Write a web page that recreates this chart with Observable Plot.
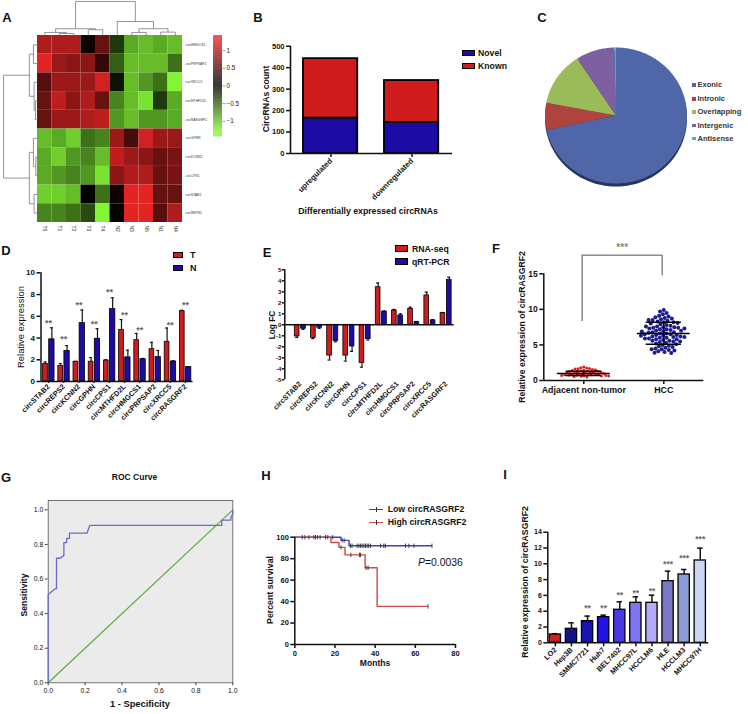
<!DOCTYPE html>
<html><head><meta charset="utf-8">
<script src="https://cdn.jsdelivr.net/npm/d3@7"></script>
<script src="https://cdn.jsdelivr.net/npm/@observablehq/plot@0.6"></script>
<style>
body{margin:0;background:#fff;}
#fig{position:relative;width:748px;height:714px;overflow:hidden;background:#fff;font-family:"Liberation Sans",Arial,Helvetica,sans-serif;color:#111;}
</style></head><body><div id="fig"></div><script>
// ---------------- DATA ----------------
// A: heatmap
const hmCols = ["T5","T1","T2","T3","T4","N2","N3","N5","N1","N4"];
const hmRows = ["circHMGCS1","circPRPSAP2","circXRCC5","circMTHFD2L","circRASGRF2","circGPHN","circKCNN2","circCPS1","circSTAB2","circREPS2"];
const hmValues = [
  [1.0, 1.0, 1.0, 0.1, 0.6, -0.3, -0.9, -1.0, -0.9, -1.0],
  [1.3, 0.9, 0.8, 0.8, 0.3, -0.5, -1.0, -1.0, -1.0, -0.6],
  [0.5, 0.9, 0.9, 0.9, 1.2, -0.1, -1.0, -0.8, -0.6, -1.3],
  [0.6, 1.1, 0.8, 1.0, 0.6, -0.7, -1.0, -1.2, -0.3, -0.9],
  [0.6, 0.9, 0.9, 1.0, 1.1, -0.8, -1.0, -0.8, -0.8, -0.9],
  [-1.0, -0.9, -1.1, -0.6, -0.7, 0.9, 0.4, 1.2, 0.9, 0.9],
  [-0.9, -1.1, -0.8, -0.7, -1.0, 1.1, 0.9, 0.8, 0.6, 0.7],
  [-0.9, -0.8, -0.7, -0.8, -1.2, 0.8, 1.0, 1.0, 0.6, 0.7],
  [-1.1, -1.1, -1.0, 0.0, -0.6, 0.1, 1.3, 1.3, 0.6, 0.6],
  [-0.7, -0.7, -0.6, -0.4, -1.3, 0.0, 1.3, 1.3, 0.5, 1.0]
];
// dendrograms: [left, right, height]
const colTree = [[[0,[1,2,0.06],0.09],[3,4,0.17],0.2],[5,[[6,7,0.09],[8,9,0.1],0.2],0.41],1];
const rowTree = [[[0,1,0.12],[2,[3,4,0.06],0.1],0.24],[[5,[6,7,0.05],0.12],[8,9,0.1],0.24],1];
const hmLegendTicks = [1, 0.5, 0, -0.5, -1];
const hmLegendLabels = ["1","0.5","0","\u22120.5","\u22121"];

// B
const bCats = ["upregulated","downregulated"];
const bNovel = [165, 145];
const bKnown = [277, 195];
const bTicks = [0,100,200,300,400,500];

// C
const pieCats = ["Exonic","Intronic","Overlapping","Intergenic","Antisense"];
const pieShares = [71.6, 6.4, 12.8, 8.8, 0.4];
const pieColors = ["#4f67a8","#b1433f","#9bbb59","#7d60a0","#4bacc6"];

// D
const dGenes = ["circSTAB2","circREPS2","circKCNN2","circGPHN","circCPS1","circMTHFD2L","circHMGCS1","circPRPSAP2","circXRCC5","circRASGRF2"];
const dT    = [1.62, 1.42, 1.82, 1.82, 1.93, 4.75, 3.80, 2.97, 3.65, 6.47];
const dTerr = [1.80, 1.65, 1.85, 2.20, 2.00, 5.70, 4.42, 3.60, 4.92, 6.55];
const dN    = [3.88, 2.80, 5.37, 3.93, 6.66, 2.22, 2.05, 2.24, 1.84, 1.32];
const dNerr = [4.94, 3.30, 6.58, 4.86, 7.70, 2.88, 2.12, 2.85, 1.90, 1.36];
const dStars = ["**","**","**","**","**","**","**","","**","**"];
const dStarY = [5.6, 4.1, 7.25, 5.45, 8.4, 6.3, 4.9, 0, 5.4, 7.25];
const dTicks = [0,2,4,6,8,10];

// E
const eRna    = [-1.06, -1.18, -2.80, -2.80, -3.48, 3.42, 1.30, 1.45, 2.67, 1.06];
const eRnaErr = [-1.15, -1.25, -3.20, -3.30, -3.85, 3.80, 1.40, 1.60, 2.97, 1.12];
const ePcr    = [-0.36, -0.27, -1.48, -1.97, -1.30, 1.20, 0.85, 0.24, 0.40, 4.09];
const ePcrErr = [-0.42, -0.32, -1.55, -2.42, -1.38, 1.25, 1.00, 0.30, 0.46, 4.33];
const eTicks = [-5,-4,-3,-2,-1,0,1,2,3,4,5];

// F
const fGroups = ["Adjacent non-tumor","HCC"];
const fAdjacent = [1.9,1.8,1.75,1.7,1.65,1.6,1.55,1.5,1.45,1.4,1.38,1.35,1.3,1.28,1.25,1.2,1.18,1.15,1.1,1.08,1.05,1.0,0.98,0.95,0.92,0.9,0.88,0.85,0.82,0.8,0.78,0.75,0.72,0.7,0.68,0.65,0.62,0.6,0.55,0.5];
const fHCC = [9.9,9.7,9.5,9.3,9.1,9.0,8.9,8.8,8.7,8.6,8.5,8.4,8.3,8.2,8.2,8.1,8.0,7.9,7.8,7.7,7.6,7.5,7.5,7.4,7.4,7.3,7.2,7.2,7.1,7.0,7.0,6.9,6.8,6.8,6.7,6.6,6.6,6.5,6.4,6.4,6.3,6.2,6.2,6.1,6.0,6.0,5.9,5.8,5.8,5.7,5.6,5.6,5.5,5.4,5.3,5.2,5.1,5.0,4.9,4.8,4.7,4.6,4.5,4.4,4.3,4.2,4.1,4.0,3.9,3.85,7.6,6.5,6.1,5.5,7.3,6.9,8.5,4.4,5.9,6.3];
const fMean = [1.0, 6.6];
const fSdLow = [0.72, 5.1];
const fSdHigh = [1.3, 8.2];
const fTicks = [0,5,10,15];
const fSig = {label:"***", top:17.6, leftEnd:8.3, rightEnd:14.7};

// G
const rocFpr = [0,0,0.04,0.045,0.045,0.065,0.075,0.085,0.085,0.1,0.1,0.115,0.115,0.21,0.225,0.94,0.94,0.99,0.99,1,1];
const rocTpr = [0,0.51,0.545,0.545,0.72,0.72,0.73,0.735,0.81,0.81,0.835,0.835,0.865,0.865,0.91,0.91,0.94,0.94,0.96,0.975,1];
const gTicks = [0,0.2,0.4,0.6,0.8,1.0];

// H
const lowT = [0,23,27,68];
const lowS = [100,97,92,92];
const highT = [0,18,22,25,35,41,66];
const highS = [100,95,90.5,83.5,71.5,35.5,35.5];
const lowCensor = [3.7,5,7,9.5,10.3,11.3,12.6,15.3,16.4,18.9,23.6,24.6,27.7,28.5,31,31.9,32.7,33.5,34.4,35.2,36,36.8,37.7,42.7,44.3,45.1,55.1,56.8,59.3,68.3];
const highCensor = [23,27.9,32.2,32.7,35.5,36.5,66.3];
const hTicksX = [0,20,40,60,80];
const hTicksY = [0,20,40,60,80,100];

// I
const iLines = ["LO2","Hep3B","SMMC7721","Huh7","BEL7402","MHCC97L","HCCLM6","HLE","HCCLM3","MHCC97H"];
const iMean = [1.05,1.77,2.74,3.25,4.18,5.06,5.06,7.80,8.65,10.42];
const iErr  = [1.15,2.53,3.38,3.50,5.19,5.82,6.03,9.07,9.28,11.98];
const iStars = ["","","**","**","**","**","**","***","***","***"];
const iStarY = [0,0,4.6,4.6,6.33,6.54,6.75,10.2,10.9,13.3];
const iColors = ["#cc1f1f","#151282","#1b14b2","#2212e6","#4a3ae6","#7e74f2","#b3acf6","#7a78c4","#8c9cd8","#c9d6f4"];
const iTicks = [0,2,4,6,8,10,12,14];

// ---------------- HELPERS ----------------
const RED = "#d01c1c", BLUE = "#1d0ca4";
const FONT = "'Liberation Sans', Arial, Helvetica, sans-serif";
const fig = document.getElementById("fig");
const style = {fontFamily: FONT, background: "transparent", overflow: "visible", color: "#111"};
function place(node, left, top) {
  node.style.position = "absolute"; node.style.left = left + "px"; node.style.top = top + "px";
  node.style.maxWidth = "none";
  fig.appendChild(node);
}
function T(str, x, y, o = {}) {
  const {size = 9, weight = "bold", anchor = "middle", rotate = 0, color = "#111", css = ""} = o;
  const d = document.createElement("div");
  if (o.html) d.innerHTML = str; else d.textContent = str;
  const tx = anchor === "middle" ? "-50%" : anchor === "end" ? "-100%" : "0";
  d.style.cssText = `position:absolute;left:${x}px;top:${y}px;font-size:${size}px;font-weight:${weight};line-height:1;white-space:nowrap;color:${color};transform-origin:0 0;transform:rotate(${rotate}deg) translate(${tx},-50%);${css}`;
  fig.appendChild(d);
  return d;
}
function swatch(x, y, w, h, color, border = "1px solid #000") {
  const d = document.createElement("div");
  d.style.cssText = `position:absolute;left:${x}px;top:${y}px;width:${w}px;height:${h}px;background:${color};border:${border};box-sizing:border-box;`;
  fig.appendChild(d);
}
const axisText = (size, weight = "bold") => ({fontSize: size, fontWeight: weight, label: null, fill: "#111"});

// ---------------- A: heatmap ----------------
function dendro(tree) {
  const segs = [];
  (function walk(n) {
    if (typeof n === "number") return {p: n + 0.5, h: 0};
    const a = walk(n[0]), b = walk(n[1]), h = n[2];
    segs.push({p1: a.p, h1: a.h, p2: a.p, h2: h}, {p1: b.p, h1: b.h, p2: b.p, h2: h}, {p1: a.p, h1: h, p2: b.p, h2: h});
    return {p: (a.p + b.p) / 2, h};
  })(tree);
  return segs;
}
const cellData = hmRows.flatMap((r, i) => hmCols.map((c, j) => ({r: i, c: j, v: hmValues[i][j]})));
const legendVals = d3.range(-1.44, 1.42, 0.02);
const lgY = v => 2.7 - v * 1.89;
const pA = Plot.plot({
  width: 240, height: 240, margin: 0, style,
  x: {domain: [0, 10], range: [37, 182], axis: null},
  y: {domain: [0, 10], range: [35, 222], axis: null},
  color: {type: "linear", domain: [-1.3, 0, 1.3], range: ["#84f535", "#000000", "#e22424"], clamp: true},
  marks: [
    Plot.rect(cellData, {x1: d => d.c, x2: d => d.c + 1, y1: d => d.r, y2: d => d.r + 1, fill: "v"}),
    Plot.link(dendro(colTree), {x1: "p1", x2: "p2", y1: d => -d.h1 * 1.82, y2: d => -d.h2 * 1.82, stroke: "#7a7a7a", strokeWidth: 0.8}),
    Plot.link(dendro(rowTree), {y1: "p1", y2: "p2", x1: d => -d.h1 * 2.34, x2: d => -d.h2 * 2.34, stroke: "#7a7a7a", strokeWidth: 0.8}),
    Plot.text(hmRows, {x: 10, y: (d, i) => i + 0.5, text: d => d, textAnchor: "start", dx: 3, fontSize: 3.4, fill: "#333"}),
    Plot.text(hmCols, {x: (d, i) => i + 0.5, y: 10, text: d => d, rotate: 90, textAnchor: "start", dy: 3, fontSize: 5, fill: "#333"}),
    Plot.rect(legendVals, {x1: 12.14, x2: 12.76, y1: v => lgY(v + 0.02), y2: v => lgY(v), fill: v => v}),
    Plot.link(hmLegendTicks, {x1: 12.76, x2: 12.95, y1: v => lgY(v), y2: v => lgY(v), stroke: "#555", strokeWidth: 0.6}),
    Plot.text(hmLegendTicks, {x: 12.76, dx: 4, y: v => lgY(v), text: (d, i) => hmLegendLabels[i], textAnchor: "start", fontSize: 6.3, fill: "#222"})
  ]
});
place(pA, 0, 0);

// ---------------- B: stacked bars ----------------
const bData = bCats.flatMap((c, i) => [
  {i, type: "Novel", y1: 0, y2: bNovel[i]},
  {i, type: "Known", y1: bNovel[i], y2: bNovel[i] + bKnown[i]}
]);
const pB = Plot.plot({
  width: 260, height: 200, marginLeft: 45, marginRight: 53, marginTop: 15.7, marginBottom: 77, style,
  x: {domain: [0, 2]}, y: {domain: [0, 500]},
  color: {domain: ["Novel", "Known"], range: [BLUE, RED]},
  marks: [
    Plot.rect(bData, {x1: d => d.i + 0.16, x2: d => d.i + 0.83, y1: "y1", y2: "y2", fill: "type", stroke: "#000", strokeWidth: 1.8}),
    Plot.ruleX([0], {strokeWidth: 1.6}),
    Plot.ruleY([0], {strokeWidth: 1.6}),
    Plot.axisY({ticks: bTicks, tickSize: 4, tickPadding: 2, strokeWidth: 1.5, ...axisText(7.5)}),
    Plot.axisX({ticks: [0.5, 1.5], tickFormat: d => bCats[Math.floor(d)], tickRotate: -45, tickSize: 4, tickPadding: 2, strokeWidth: 1.5, ...axisText(7.8)})
  ]
});
place(pB, 245, 30);

// ---------------- C: pie ----------------
const arcs = d3.pie().sort(null).value(d => d)(pieShares);
const piePts = arcs.flatMap((a, k) => {
  const n = Math.max(2, Math.ceil((a.endAngle - a.startAngle) / (Math.PI / 180)));
  const pts = [{cat: pieCats[k], x: 0, y: 0}];
  for (let s = 0; s <= n; s++) {
    const t = a.startAngle + (a.endAngle - a.startAngle) * s / n;
    pts.push({cat: pieCats[k], x: Math.sin(t), y: Math.cos(t)});
  }
  return pts;
});
const rim = d3.range(0, 361, 3).map(a => ({x: Math.sin(a * Math.PI / 180), y: Math.cos(a * Math.PI / 180)}));
const pC = Plot.plot({
  width: 258, height: 240, margin: 0, style,
  x: {domain: [-1, 1], range: [54.5, 196.5], axis: null},
  y: {domain: [-1, 1], range: [183, 47], axis: null},
  color: {domain: pieCats, range: pieColors},
  marks: [
    Plot.line(rim, {x: "x", y: "y", fill: "#27355f", stroke: "none", dy: 3}),
    Plot.line(piePts, {x: "x", y: "y", z: "cat", fill: "cat", stroke: "none"})
  ]
});
place(pC, 490, 0);

// ---------------- D: grouped bars ----------------
const dRows = dGenes.map((g, i) => ({i, g, t: dT[i], te: dTerr[i], n: dN[i], ne: dNerr[i], s: dStars[i], sy: dStarY[i]}));
const pD = Plot.plot({
  width: 245, height: 235, marginLeft: 40.5, marginRight: 52.5, marginTop: 27.3, marginBottom: 99, style,
  x: {domain: [0, 10]}, y: {domain: [0, 10]},
  marks: [
    Plot.ruleX(dRows, {x: d => d.i + 0.295, y1: "t", y2: "te", strokeWidth: 1.2}),
    Plot.ruleY(dRows, {y: "te", x1: d => d.i + 0.2, x2: d => d.i + 0.39, strokeWidth: 1.2}),
    Plot.ruleX(dRows, {x: d => d.i + 0.715, y1: "n", y2: "ne", strokeWidth: 1.2}),
    Plot.ruleY(dRows, {y: "ne", x1: d => d.i + 0.62, x2: d => d.i + 0.81, strokeWidth: 1.2}),
    Plot.rect(dRows, {x1: d => d.i + 0.14, x2: d => d.i + 0.45, y1: 0, y2: "t", fill: RED, stroke: "#000", strokeWidth: 0.8}),
    Plot.rect(dRows, {x1: d => d.i + 0.54, x2: d => d.i + 0.89, y1: 0, y2: "n", fill: BLUE, stroke: "#000", strokeWidth: 0.8}),
    Plot.text(dRows.filter(d => d.s), {x: d => d.i + 0.5, y: "sy", text: "s", fontSize: 9, fontWeight: "bold", fill: "#666", dy: 2}),
    Plot.ruleX([0], {strokeWidth: 1.5}),
    Plot.ruleY([0], {strokeWidth: 1.5}),
    Plot.axisY({ticks: dTicks, tickSize: 4, tickPadding: 2, strokeWidth: 1.5, ...axisText(8)}),
    Plot.axisX({ticks: dGenes.map((g, i) => i + 0.5), tickFormat: d => dGenes[Math.floor(d)], tickRotate: -45, tickSize: 2, tickPadding: 2, strokeWidth: 1.2, ...axisText(7.3)})
  ]
});
place(pD, 0, 245);

// ---------------- E: log FC ----------------
const eRows = dGenes.map((g, i) => ({i, r: eRna[i], re: eRnaErr[i], p: ePcr[i], pe: ePcrErr[i]}));
const eX0 = -0.457;
const pE = Plot.plot({
  width: 245, height: 235, marginLeft: 39.3, marginRight: 36.3, marginTop: 24.3, marginBottom: 100.7, style,
  x: {domain: [eX0, 10]}, y: {domain: [-5, 5]},
  marks: [
    Plot.ruleX(eRows, {x: d => d.i + 0.305, y1: "r", y2: "re", strokeWidth: 1.2}),
    Plot.ruleY(eRows, {y: "re", x1: d => d.i + 0.21, x2: d => d.i + 0.40, strokeWidth: 1.2}),
    Plot.ruleX(eRows, {x: d => d.i + 0.695, y1: "p", y2: "pe", strokeWidth: 1.2}),
    Plot.ruleY(eRows, {y: "pe", x1: d => d.i + 0.60, x2: d => d.i + 0.79, strokeWidth: 1.2}),
    Plot.rect(eRows, {x1: d => d.i + 0.16, x2: d => d.i + 0.45, y1: 0, y2: "r", fill: RED, stroke: "#000", strokeWidth: 0.8}),
    Plot.rect(eRows, {x1: d => d.i + 0.55, x2: d => d.i + 0.84, y1: 0, y2: "p", fill: BLUE, stroke: "#000", strokeWidth: 0.8}),
    Plot.ruleX([eX0], {strokeWidth: 1.5}),
    Plot.ruleY([0], {strokeWidth: 1.5}),
    Plot.axisY({ticks: eTicks, tickFormat: d => String(d), tickSize: 2.5, tickPadding: 1, strokeWidth: 1.5, ...axisText(6)}),
    Plot.axisX({ticks: dGenes.map((g, i) => i + 0.5), tickFormat: d => dGenes[Math.floor(d)], tickRotate: -45, tickSize: 0, tickPadding: 3, ...axisText(7.3)})
  ]
});
place(pE, 245, 245);

// ---------------- F: scatter ----------------
const fStat = fGroups.map((g, i) => ({i, m: fMean[i], lo: fSdLow[i], hi: fSdHigh[i]}));
const pF = Plot.plot({
  width: 258, height: 240, marginLeft: 53.3, marginRight: 44.7, marginTop: 33.3, marginBottom: 100, style,
  x: {domain: [0, 2]}, y: {domain: [0, 15]},
  marks: [
    Plot.ruleY([fSig.top], {x1: 0.48, x2: 1.48, stroke: "#8a8a8a", strokeWidth: 1.5}),
    Plot.ruleX([0.48], {y1: fSig.leftEnd, y2: fSig.top, stroke: "#8a8a8a", strokeWidth: 1.5}),
    Plot.ruleX([1.48], {y1: fSig.rightEnd, y2: fSig.top, stroke: "#8a8a8a", strokeWidth: 1.5}),
    Plot.text([fSig.label], {x: 0.98, y: fSig.top, dy: -8, text: d => d, fontSize: 10, fontWeight: "bold", fill: "#888"}),
    Plot.dot(fAdjacent, Plot.dodgeX({anchor: "middle", padding: 0}, {y: d => d, r: 1.5, fill: "#e02020", dx: -40})),
    Plot.dot(fHCC, Plot.dodgeX({anchor: "middle", padding: 0}, {y: d => d, r: 2, fill: "#1c1c8c", dx: 40})),
    Plot.ruleY(fStat, {y: "m", x1: d => d.i + 0.5 - 0.33, x2: d => d.i + 0.5 + 0.33, stroke: "#000", strokeWidth: 1.5}),
    Plot.ruleY(fStat, {y: "lo", x1: d => d.i + 0.5 - 0.22, x2: d => d.i + 0.5 + 0.22, stroke: "#000", strokeWidth: 1.5}),
    Plot.ruleY(fStat, {y: "hi", x1: d => d.i + 0.5 - 0.22, x2: d => d.i + 0.5 + 0.22, stroke: "#000", strokeWidth: 1.5}),
    Plot.ruleX(fStat, {x: d => d.i + 0.5, y1: "lo", y2: "hi", stroke: "#000", strokeWidth: 1.5}),
    Plot.ruleX([0], {strokeWidth: 1.5}),
    Plot.ruleY([0], {strokeWidth: 1.5}),
    Plot.axisY({ticks: fTicks, tickSize: 4, tickPadding: 2, strokeWidth: 1.5, ...axisText(8.5)}),
    Plot.axisX({ticks: [0.5, 1.5], tickFormat: d => fGroups[Math.floor(d)], tickSize: 4, tickPadding: 2, strokeWidth: 1.5, ...axisText(8.9)})
  ]
});
place(pF, 490, 240);

// ---------------- G: ROC ----------------
const rocData = rocFpr.map((x, i) => ({x, y: rocTpr[i]}));
const pG = Plot.plot({
  width: 235, height: 234, marginLeft: 47.7, marginRight: 2.7, marginTop: 20, marginBottom: 31.7, style,
  x: {domain: [0, 1]}, y: {domain: [0, 1.054]},
  marks: [
    Plot.frame({fill: "#ebebeb", stroke: "#555", strokeWidth: 0.8}),
    Plot.line([{x: 0, y: 0}, {x: 1, y: 1}], {x: "x", y: "y", stroke: "#5aae3a", strokeWidth: 1.2}),
    Plot.line(rocData, {x: "x", y: "y", stroke: "#6a6ad0", strokeWidth: 1.3}),
    Plot.axisY({ticks: gTicks, tickFormat: d3.format(".1f"), tickSize: 3, tickPadding: 2, stroke: "#444", ...axisText(6.8, "normal")}),
    Plot.axisX({ticks: gTicks, tickFormat: d3.format(".1f"), tickSize: 3, tickPadding: 2, stroke: "#444", ...axisText(6.8, "normal")})
  ]
});
place(pG, 0, 480);

// ---------------- H: survival ----------------
const stepAt = (T0, S0) => t => S0[d3.bisectRight(T0, t) - 1];
const lowLine = lowT.map((t, i) => ({t, s: lowS[i]}));
const highLine = highT.map((t, i) => ({t, s: highS[i]}));
const tickSym = {draw(ctx, size) { const h = Math.sqrt(size / Math.PI); ctx.moveTo(0, -h); ctx.lineTo(0, h); }};
const pH = Plot.plot({
  width: 245, height: 234, marginLeft: 49.3, marginRight: 35, marginTop: 56.7, marginBottom: 70, style,
  x: {domain: [0, 80]}, y: {domain: [0, 100]},
  marks: [
    Plot.line(lowLine, {x: "t", y: "s", curve: "step-after", stroke: "#3c3cd0", strokeWidth: 1.4}),
    Plot.line(highLine, {x: "t", y: "s", curve: "step-after", stroke: "#d24848", strokeWidth: 1.4}),
    Plot.dot(lowCensor, {x: d => d, y: stepAt(lowT, lowS), symbol: tickSym, r: 2.2, fill: "none", stroke: "#333", strokeWidth: 0.9}),
    Plot.dot(highCensor, {x: d => d, y: stepAt(highT, highS), symbol: tickSym, r: 2.2, fill: "none", stroke: "#333", strokeWidth: 0.9}),
    Plot.ruleX([0], {strokeWidth: 1.5}),
    Plot.ruleY([0], {strokeWidth: 1.5}),
    Plot.axisY({ticks: hTicksY, tickSize: 4, tickPadding: 2, strokeWidth: 1.5, ...axisText(7.5)}),
    Plot.axisX({ticks: hTicksX, tickSize: 4, tickPadding: 2, strokeWidth: 1.5, ...axisText(7.5)})
  ]
});
place(pH, 245, 480);

// ---------------- I: cell lines ----------------
const iRows = iLines.map((g, i) => ({i, m: iMean[i], e: iErr[i], c: iColors[i], s: iStars[i], sy: iStarY[i]}));
const pI = Plot.plot({
  width: 258, height: 234, marginLeft: 57.3, marginRight: 39.7, marginTop: 51.7, marginBottom: 71.7, style,
  x: {domain: [0, 10]}, y: {domain: [0, 14]},
  color: {type: "identity"},
  marks: [
    Plot.ruleX(iRows, {x: d => d.i + 0.47, y1: "m", y2: "e", strokeWidth: 1.5}),
    Plot.ruleY(iRows, {y: "e", x1: d => d.i + 0.3, x2: d => d.i + 0.64, strokeWidth: 1.5}),
    Plot.rect(iRows, {x1: d => d.i + 0.12, x2: d => d.i + 0.82, y1: 0, y2: "m", fill: "c", stroke: "#000", strokeWidth: 1.3}),
    Plot.text(iRows.filter(d => d.s), {x: d => d.i + 0.47, y: "sy", text: "s", fontSize: 8.5, fontWeight: "bold", fill: "#666", dy: 2}),
    Plot.ruleX([0], {strokeWidth: 1.5}),
    Plot.ruleY([0], {strokeWidth: 1.5}),
    Plot.axisY({ticks: iTicks, tickSize: 4, tickPadding: 2, strokeWidth: 1.5, ...axisText(7)}),
    Plot.axisX({ticks: iLines.map((g, i) => i + 0.47), tickFormat: d => iLines[Math.floor(d)], tickRotate: -45, tickSize: 4, tickPadding: 2, strokeWidth: 1.5, ...axisText(7.3)})
  ]
});
place(pI, 490, 480);

// ---------------- HTML text: letters, titles, legends ----------------
[["A",7,17],["B",258,17],["C",542,17],["D",6,250],["E",267,252],["F",496,248],["G",6,477],["H",266,475],["I",505,474]]
  .forEach(([s, x, y]) => T(s, x, y, {size: 13}));

// B
T("CircRNAs count", 266, 99, {size: 8.7, rotate: -90});
T("Differentially expressed circRNAs", 368, 211, {size: 8.7});
swatch(462, 50, 12.5, 5.5, BLUE); T("Novel", 478, 52.7, {size: 8.7, anchor: "start"});
swatch(462, 63, 12.5, 5.5, RED); T("Known", 478, 65.7, {size: 8.7, anchor: "start"});

// C legend
[85, 99, 112, 125.7, 138.7].forEach((y, k) => {
  swatch(692, y - 1.8, 3.6, 3.6, pieColors[k], "none");
  T(pieCats[k], 697.5, y, {size: 7.5, anchor: "start", color: "#333"});
});

// D
T("Relative  expression", 20.7, 327, {size: 9.4, weight: "normal", rotate: -90});
swatch(173, 252, 10, 6, RED); T("T", 190, 255, {size: 9, anchor: "start"});
swatch(173, 265, 10, 6, BLUE); T("N", 190, 268, {size: 9, anchor: "start"});

// E
T("Log FC", 272, 325, {size: 8.3, rotate: -90});
swatch(395, 245, 13, 7, RED); T("RNA-seq", 412, 248.5, {size: 8.7, anchor: "start"});
swatch(395, 258, 13, 7, BLUE); T("qRT-PCR", 412, 261.5, {size: 8.7, anchor: "start"});

// F
T("Relative  expression of circRASGRF2", 521.7, 327, {size: 8.7, rotate: -90});

// G
T("ROC Curve", 134.5, 477, {size: 8.5});
T("Sensitivity", 24, 595, {size: 8.6, rotate: -90});
T("1 - Specificity", 140, 705, {size: 9.3});

// H legend
[["Low circRASGRF2", "#3c3cd0", 509.3], ["High circRASGRF2", "#d24848", 522.3]].forEach(([s, c, y]) => {
  const l = document.createElement("div");
  l.style.cssText = `position:absolute;left:369px;top:${y - 0.75}px;width:14px;height:1.5px;background:${c};`;
  fig.appendChild(l);
  const t = document.createElement("div");
  t.style.cssText = `position:absolute;left:375.5px;top:${y - 2.5}px;width:1px;height:5px;background:#333;`;
  fig.appendChild(t);
  T(s, 387.7, y, {size: 8.7, anchor: "start"});
});
T("<i>P</i>=0.0036", 418, 563.3, {size: 10.4, weight: "normal", anchor: "start", html: true});
T("Percent survival", 270, 590, {size: 8.8, rotate: -90});
T("Months", 375, 663.3, {size: 8.6});

// I
T("Relative expression of  circRASGRF2", 525, 582, {size: 8.7, rotate: -90});
</script></body></html>
